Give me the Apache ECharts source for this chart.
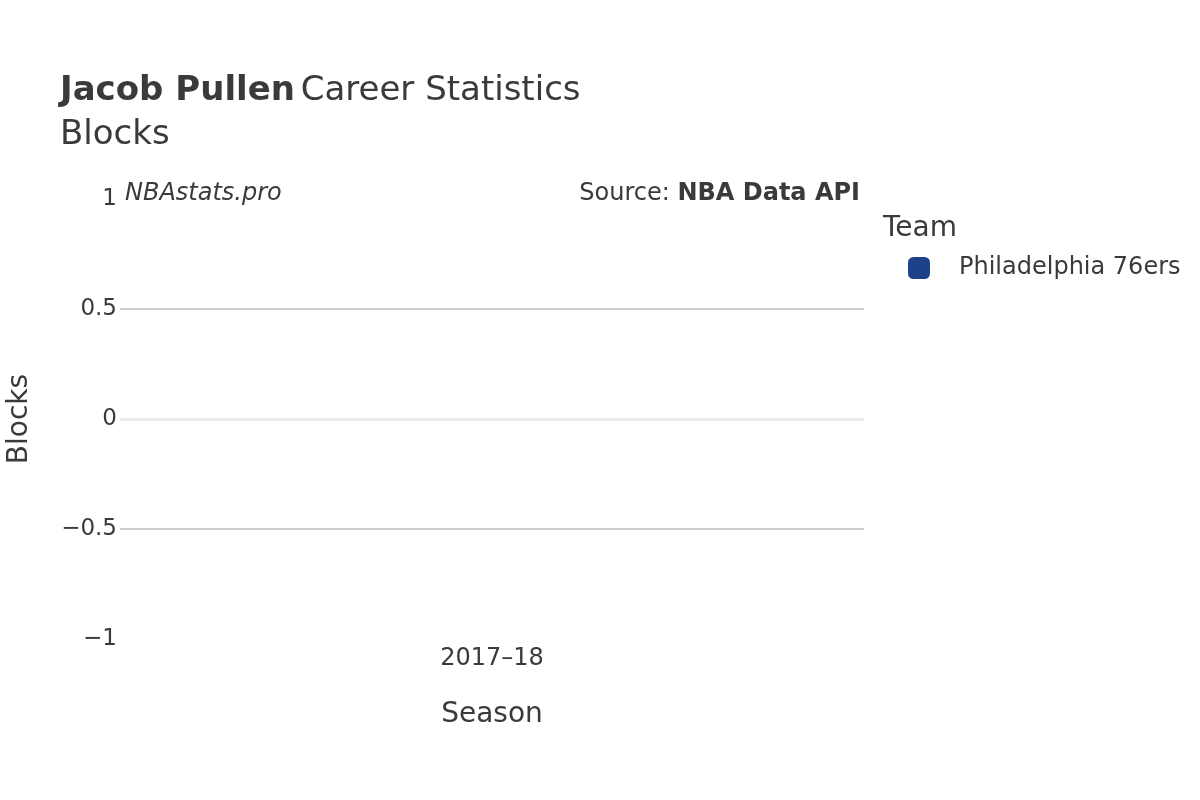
<!DOCTYPE html>
<html>
<head>
<meta charset="utf-8">
<script src="https://cdn.jsdelivr.net/npm/echarts@6/dist/echarts.min.js"></script>
<style>html,body{margin:0;padding:0;background:#fff}#c{width:1200px;height:800px}</style>
</head>
<body>
<div id="c"></div>
<script>
var seasons = ['2017\u201318'];
var teamName = 'Philadelphia 76ers';
var blocks = [0];
var yTicks = [-1, -0.5, 0, 0.5, 1];

var FONT = '"DejaVu Sans", sans-serif';
var TXT = '#3a3a3a';
var chart = echarts.init(document.getElementById('c'));
chart.setOption({
  animation: false,
  textStyle: { fontFamily: FONT },
  title: {
    left: 60, top: 69, padding: 0,
    text: '{b|Jacob Pullen} {n|Career Statistics}\n{n|Blocks}',
    textStyle: {
      fontWeight: 'normal',
      rich: {
        b: { fontFamily: FONT, fontSize: 34, fontWeight: 'bold', color: TXT, lineHeight: 44 },
        n: { fontFamily: FONT, fontSize: 34, fontWeight: 'normal', color: TXT, lineHeight: 44 }
      }
    }
  },
  legend: {
    left: 903, top: 251, orient: 'vertical',
    icon: 'roundRect', itemWidth: 22, itemHeight: 22, itemGap: 14,
    textStyle: { fontFamily: FONT, fontSize: 24, color: TXT, padding: [0, 0, 0, 24] },
    data: [teamName]
  },
  grid: { left: 120, right: 336, top: 199, bottom: 161, containLabel: false, outerBoundsMode: 'none' },
  xAxis: {
    type: 'category', data: seasons, position: 'bottom',
    name: 'Season', nameLocation: 'middle', nameGap: 62,
    nameTextStyle: { fontFamily: FONT, fontSize: 28, color: TXT },
    axisLine: { show: false, onZero: false },
    axisTick: { show: false },
    axisLabel: { fontFamily: FONT, fontSize: 24, color: TXT, margin: 8 }
  },
  yAxis: {
    type: 'value', min: yTicks[0], max: yTicks[yTicks.length - 1], interval: 0.5,
    name: 'Blocks', nameLocation: 'middle', nameGap: 86,
    nameTextStyle: { fontFamily: FONT, fontSize: 28, color: TXT },
    axisLine: { show: false }, axisTick: { show: false },
    axisLabel: { fontFamily: FONT, fontSize: 23, color: TXT, margin: 3, padding: [4, 0, 0, 0],
      formatter: function (v) { return v < 0 ? '\u2212' + Math.abs(v) : String(v); } },
    splitLine: { show: true, lineStyle: { color: ['rgba(0,0,0,0)', '#bdbdbd', 'rgba(0,0,0,0)', '#bdbdbd', 'rgba(0,0,0,0)'], width: 1.5 } }
  },
  graphic: [
    { type: 'text', left: 125, top: 182, style: { text: 'NBAstats.pro', fontFamily: FONT, fontSize: 24, fontStyle: 'italic', fill: TXT } },
    { type: 'text', right: 340, top: 182, style: { text: '{n|Source: }{b|NBA Data API}', rich: { n: { fontFamily: FONT, fontSize: 24, fill: TXT }, b: { fontFamily: FONT, fontSize: 24, fontWeight: 'bold', fill: TXT } } } },
    { type: 'text', left: 883, top: 215, style: { text: 'Team', fontFamily: FONT, fontSize: 28, fill: TXT } }
  ],
  series: [{
    name: teamName, type: 'bar', data: blocks, barWidth: '81%',
    itemStyle: { color: '#1d428a' },
    markLine: {
      silent: true, symbol: 'none', label: { show: false },
      lineStyle: { color: '#ececec', width: 3, type: 'solid' },
      data: [{ yAxis: 0 }]
    }
  }]
});
</script>
</body>
</html>
